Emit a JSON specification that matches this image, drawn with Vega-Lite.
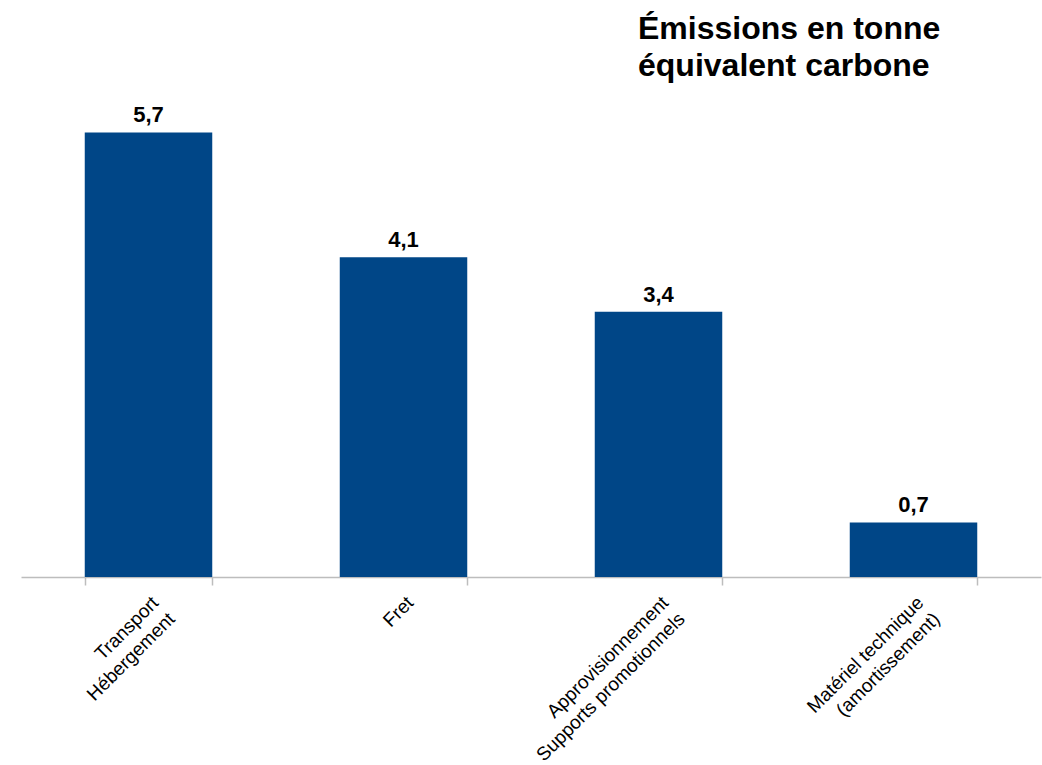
{
  "$schema": "https://vega.github.io/schema/vega-lite/v6.json",
  "width": 1020,
  "height": 546,
  "autosize": {"type": "none"},
  "padding": {"left": 21, "top": 31, "right": 1, "bottom": 188},
  "background": "white",
  "config": {
    "view": {"stroke": null},
    "locale": {"number": {"decimal": ",", "thousands": " ", "grouping": [3], "currency": ["", " €"]}},
    "font": "Liberation Sans"
  },
  "title": {
    "text": ["Émissions en tonne", "équivalent carbone"],
    "anchor": "start",
    "frame": "group",
    "dx": 617,
    "dy": 77,
    "offset": 0,
    "baseline": "alphabetic",
    "fontSize": 32,
    "fontWeight": "bold",
    "font": "Liberation Sans",
    "color": "#000000",
    "lineHeight": 37
  },
  "data": {
    "values": [
      {"categorie": "Transport\nHébergement", "valeur": 5.7},
      {"categorie": "Fret", "valeur": 4.1},
      {"categorie": "Approvisionnement\nSupports promotionnels", "valeur": 3.4},
      {"categorie": "Matériel technique\n(amortissement)", "valeur": 0.7}
    ]
  },
  "encoding": {
    "x": {
      "field": "categorie",
      "type": "nominal",
      "sort": null,
      "scale": {"paddingInner": 0.5, "paddingOuter": 0.25},
      "axis": {
        "title": null,
        "tickBand": "extent",
        "tickSize": 8,
        "tickColor": "#bdbdbd",
        "tickWidth": 1.5,
        "domainColor": "#bdbdbd",
        "domainWidth": 1.5,
        "labelAngle": -45,
        "labelAlign": "right",
        "labelBaseline": "top",
        "labelPadding": 8,
        "labelFontSize": 19,
        "labelLineHeight": 23,
        "labelLimit": 0,
        "labelColor": "#000000",
        "labelFont": "Liberation Sans",
        "labelExpr": "split(datum.label, '\\n')"
      }
    },
    "y": {
      "field": "valeur",
      "type": "quantitative",
      "scale": {"domain": [0, 7]},
      "axis": null
    }
  },
  "layer": [
    {"mark": {"type": "bar", "color": "#004687"}},
    {
      "mark": {"type": "text", "baseline": "alphabetic", "dy": -10, "fontSize": 22, "fontWeight": "bold", "color": "#000000", "font": "Liberation Sans"},
      "encoding": {"text": {"field": "valeur", "type": "quantitative", "format": ".1f"}}
    }
  ]
}
